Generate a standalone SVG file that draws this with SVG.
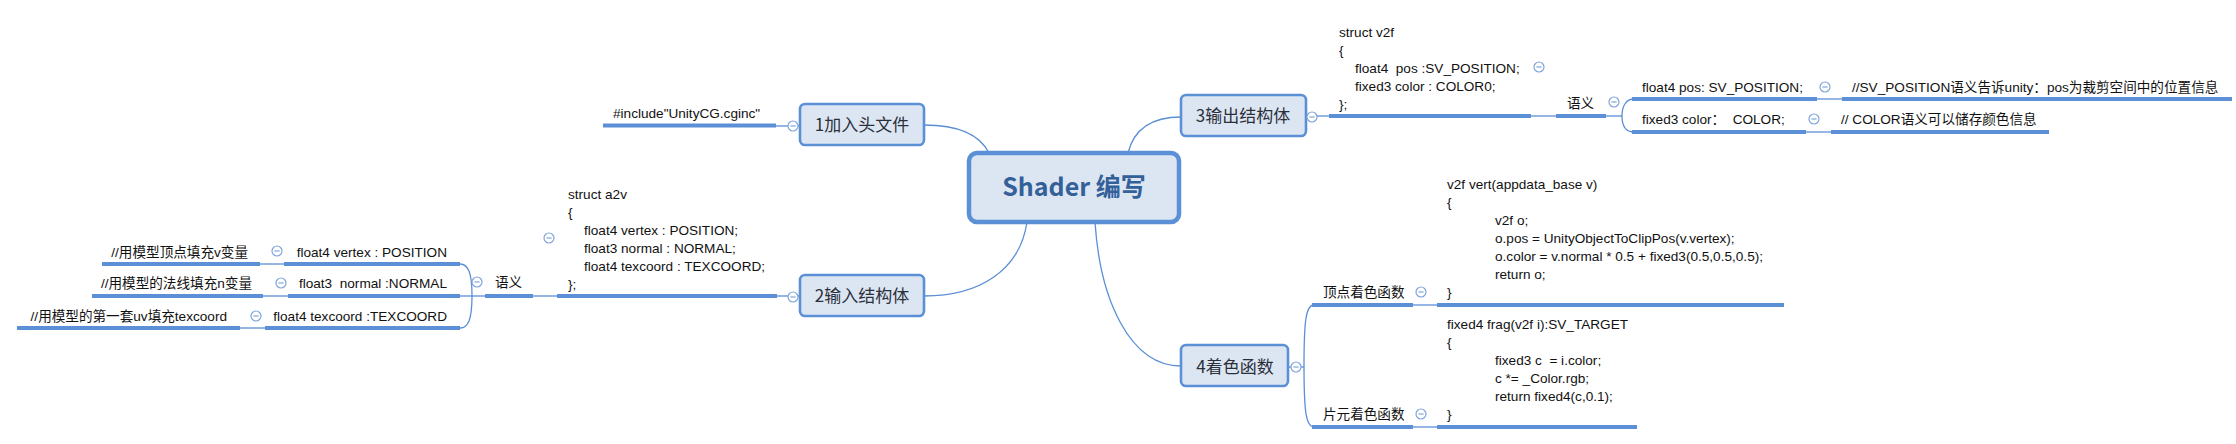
<svg xmlns="http://www.w3.org/2000/svg" xmlns:xlink="http://www.w3.org/1999/xlink" width="2236" height="444" viewBox="0 0 2236 444">
<style>
.bg{fill:#ffffff}
.thin{fill:none;stroke:#5b8fd6;stroke-width:1.3}
.thick{fill:none;stroke:#5b8fd6;stroke-width:4}
.box{fill:#dce6f2;stroke:#5b8fd6;stroke-width:2.6}
.root{fill:#dce6f2;stroke:#5b8fd6;stroke-width:4.5}
.rt{font-family:"Noto Sans CJK SC","Liberation Sans",sans-serif;font-size:25px;font-weight:bold;fill:#34609a;text-anchor:middle}
.nt{font-family:"Noto Sans CJK SC","Liberation Sans",sans-serif;font-size:17px;fill:#2a2f3a;text-anchor:middle}
.t{font-family:"Liberation Sans","Noto Sans CJK SC",sans-serif;font-size:13.6px;fill:#111111}
.e{text-anchor:end}
.bc{fill:#ffffff;stroke:#7fa5da;stroke-width:1.2}
.bm{stroke:#7fa5da;stroke-width:1.2}
</style>
<defs>
<g id="btn"><circle class="bc" cx="0" cy="0" r="5"/><line class="bm" x1="-2.6" y1="0" x2="2.6" y2="0"/></g>
</defs>
<rect class="bg" x="0" y="0" width="2236" height="444"/>

<g id="connectors">
<path class="thin" d="M924,125 Q975,125 989,153"/>
<path class="thin" d="M1128,153 Q1137,117 1181,117"/>
<path class="thin" d="M1027,222 C1020,270 980,296 924,296"/>
<path class="thin" d="M1095,222 C1100,300 1130,366 1181,366"/>
<line class="thin" x1="776" y1="126" x2="800" y2="126"/>
<line class="thin" x1="777" y1="296" x2="800" y2="296"/>
<line class="thin" x1="533" y1="296" x2="557" y2="296"/>
<line class="thin" x1="472" y1="296" x2="485" y2="296"/>
<path class="thin" d="M460,264 C468,264 472,272 472,296 C472,320 468,328 460,328"/>
<line class="thin" x1="460" y1="296" x2="472" y2="296"/>
<line class="thin" x1="260" y1="264" x2="284" y2="264"/>
<line class="thin" x1="263" y1="296" x2="288" y2="296"/>
<line class="thin" x1="240" y1="328" x2="265" y2="328"/>
<line class="thin" x1="1306" y1="116" x2="1329" y2="116"/>
<line class="thin" x1="1531" y1="116" x2="1556" y2="116"/>
<line class="thin" x1="1606" y1="116" x2="1622" y2="116"/>
<path class="thin" d="M1634,99 C1626,99 1622,106 1622,116 C1622,126 1626,132 1634,132"/>
<line class="thin" x1="1817" y1="99" x2="1842" y2="99"/>
<line class="thin" x1="1806" y1="132" x2="1831" y2="132"/>
<line class="thin" x1="1288" y1="367" x2="1304" y2="367"/>
<path class="thin" d="M1314,305 C1306,305 1304,320 1304,366 C1304,412 1306,427 1314,427"/>
<line class="thin" x1="1413" y1="305" x2="1437" y2="305"/>
<line class="thin" x1="1413" y1="427" x2="1437" y2="427"/>
</g>

<g id="root">
<rect class="root" x="969" y="153" width="210" height="69" rx="8"/>
<text class="rt" x="1074" y="196">Shader 编写</text>
</g>

<g id="n1">
<rect class="box" x="800" y="104" width="124" height="41" rx="5"/>
<text class="nt" x="862" y="131">1加入头文件</text>
<use xlink:href="#btn" x="793" y="126"/>
</g>
<g id="n1-include">
<line class="thick" x1="603" y1="125.5" x2="776" y2="125.5"/>
<text class="t" x="613" y="117.5">#include&quot;UnityCG.cginc&quot;</text>
</g>

<g id="n2">
<rect class="box" x="800" y="275" width="124" height="41" rx="5"/>
<text class="nt" x="862" y="302">2输入结构体</text>
<use xlink:href="#btn" x="793" y="297"/>
</g>
<g id="n2-struct">
<line class="thick" x1="557" y1="296" x2="777" y2="296"/>
<text class="t" x="568" y="198.5">struct a2v</text>
<text class="t" x="568" y="216.5">{</text>
<text class="t" x="584" y="234.5">float4 vertex : POSITION;</text>
<text class="t" x="584" y="252.5">float3 normal : NORMAL;</text>
<text class="t" x="584" y="270.5">float4 texcoord : TEXCOORD;</text>
<text class="t" x="568" y="288.5">};</text>
<use xlink:href="#btn" x="549" y="238"/>
</g>
<g id="n2-sem">
<line class="thick" x1="485" y1="296" x2="533" y2="296"/>
<text class="t" x="495" y="287">语义</text>
<use xlink:href="#btn" x="477" y="282"/>
</g>
<g id="n2-vertex">
<line class="thick" x1="284" y1="264" x2="460" y2="264"/>
<text class="t e" x="447" y="256.5">float4 vertex : POSITION</text>
<use xlink:href="#btn" x="277" y="251"/>
</g>
<g id="n2-vertex-c">
<line class="thick" x1="102" y1="264" x2="260" y2="264"/>
<text class="t e" x="248" y="256.5">//用模型顶点填充v变量</text>
</g>
<g id="n2-normal">
<line class="thick" x1="288" y1="296" x2="460" y2="296"/>
<text class="t e" x="447" y="288">float3&#160; normal :NORMAL</text>
<use xlink:href="#btn" x="281" y="283"/>
</g>
<g id="n2-normal-c">
<line class="thick" x1="92" y1="296" x2="263" y2="296"/>
<text class="t e" x="252" y="288">//用模型的法线填充n变量</text>
</g>
<g id="n2-tex">
<line class="thick" x1="265" y1="328" x2="460" y2="328"/>
<text class="t e" x="447" y="320.5">float4 texcoord :TEXCOORD</text>
<use xlink:href="#btn" x="256" y="316"/>
</g>
<g id="n2-tex-c">
<line class="thick" x1="17" y1="328" x2="240" y2="328"/>
<text class="t e" x="227" y="320.5">//用模型的第一套uv填充texcoord</text>
</g>

<g id="n3">
<rect class="box" x="1181" y="95" width="125" height="41" rx="5"/>
<text class="nt" x="1243" y="122">3输出结构体</text>
<use xlink:href="#btn" x="1312" y="117"/>
</g>
<g id="n3-struct">
<line class="thick" x1="1329" y1="116" x2="1531" y2="116"/>
<text class="t" x="1339" y="36.5">struct v2f</text>
<text class="t" x="1339" y="54.5">{</text>
<text class="t" x="1355" y="72.5">float4&#160; pos :SV_POSITION;</text>
<text class="t" x="1355" y="90.5">fixed3 color : COLOR0;</text>
<text class="t" x="1339" y="108.5">};</text>
<use xlink:href="#btn" x="1539" y="67"/>
</g>
<g id="n3-sem">
<line class="thick" x1="1556" y1="116" x2="1606" y2="116"/>
<text class="t" x="1567" y="108">语义</text>
<use xlink:href="#btn" x="1614" y="102"/>
</g>
<g id="n3-pos">
<line class="thick" x1="1632" y1="99" x2="1817" y2="99"/>
<text class="t" x="1642" y="91.5">float4 pos: SV_POSITION;</text>
<use xlink:href="#btn" x="1825" y="87"/>
</g>
<g id="n3-pos-c">
<line class="thick" x1="1842" y1="99" x2="2232" y2="99"/>
<text class="t" x="1852" y="92">//SV_POSITION语义告诉unity：pos为裁剪空间中的位置信息</text>
</g>
<g id="n3-color">
<line class="thick" x1="1632" y1="132" x2="1806" y2="132"/>
<text class="t" x="1642" y="124">fixed3 color：&#160; COLOR;</text>
<use xlink:href="#btn" x="1814" y="119"/>
</g>
<g id="n3-color-c">
<line class="thick" x1="1831" y1="132" x2="2049" y2="132"/>
<text class="t" x="1841" y="124">// COLOR语义可以储存颜色信息</text>
</g>

<g id="n4">
<rect class="box" x="1181" y="345" width="107" height="41" rx="5"/>
<text class="nt" x="1235" y="372.5">4着色函数</text>
<use xlink:href="#btn" x="1296" y="367"/>
</g>
<g id="n4-vs">
<line class="thick" x1="1312" y1="305" x2="1413" y2="305"/>
<text class="t" x="1323" y="297">顶点着色函数</text>
<use xlink:href="#btn" x="1421" y="292"/>
</g>
<g id="n4-vs-code">
<line class="thick" x1="1437" y1="305" x2="1784" y2="305"/>
<text class="t" x="1447" y="188.5">v2f vert(appdata_base v)</text>
<text class="t" x="1447" y="206.5">{</text>
<text class="t" x="1495" y="224.5">v2f o;</text>
<text class="t" x="1495" y="242.5">o.pos = UnityObjectToClipPos(v.vertex);</text>
<text class="t" x="1495" y="260.5">o.color = v.normal * 0.5 + fixed3(0.5,0.5,0.5);</text>
<text class="t" x="1495" y="278.5">return o;</text>
<text class="t" x="1447" y="297">}</text>
</g>
<g id="n4-fs">
<line class="thick" x1="1312" y1="427" x2="1413" y2="427"/>
<text class="t" x="1323" y="419">片元着色函数</text>
<use xlink:href="#btn" x="1421" y="414"/>
</g>
<g id="n4-fs-code">
<line class="thick" x1="1437" y1="427" x2="1637" y2="427"/>
<text class="t" x="1447" y="329">fixed4 frag(v2f i):SV_TARGET</text>
<text class="t" x="1447" y="347">{</text>
<text class="t" x="1495" y="365">fixed3 c&#160; = i.color;</text>
<text class="t" x="1495" y="383">c *= _Color.rgb;</text>
<text class="t" x="1495" y="401">return fixed4(c,0.1);</text>
<text class="t" x="1447" y="419">}</text>
</g>
</svg>
